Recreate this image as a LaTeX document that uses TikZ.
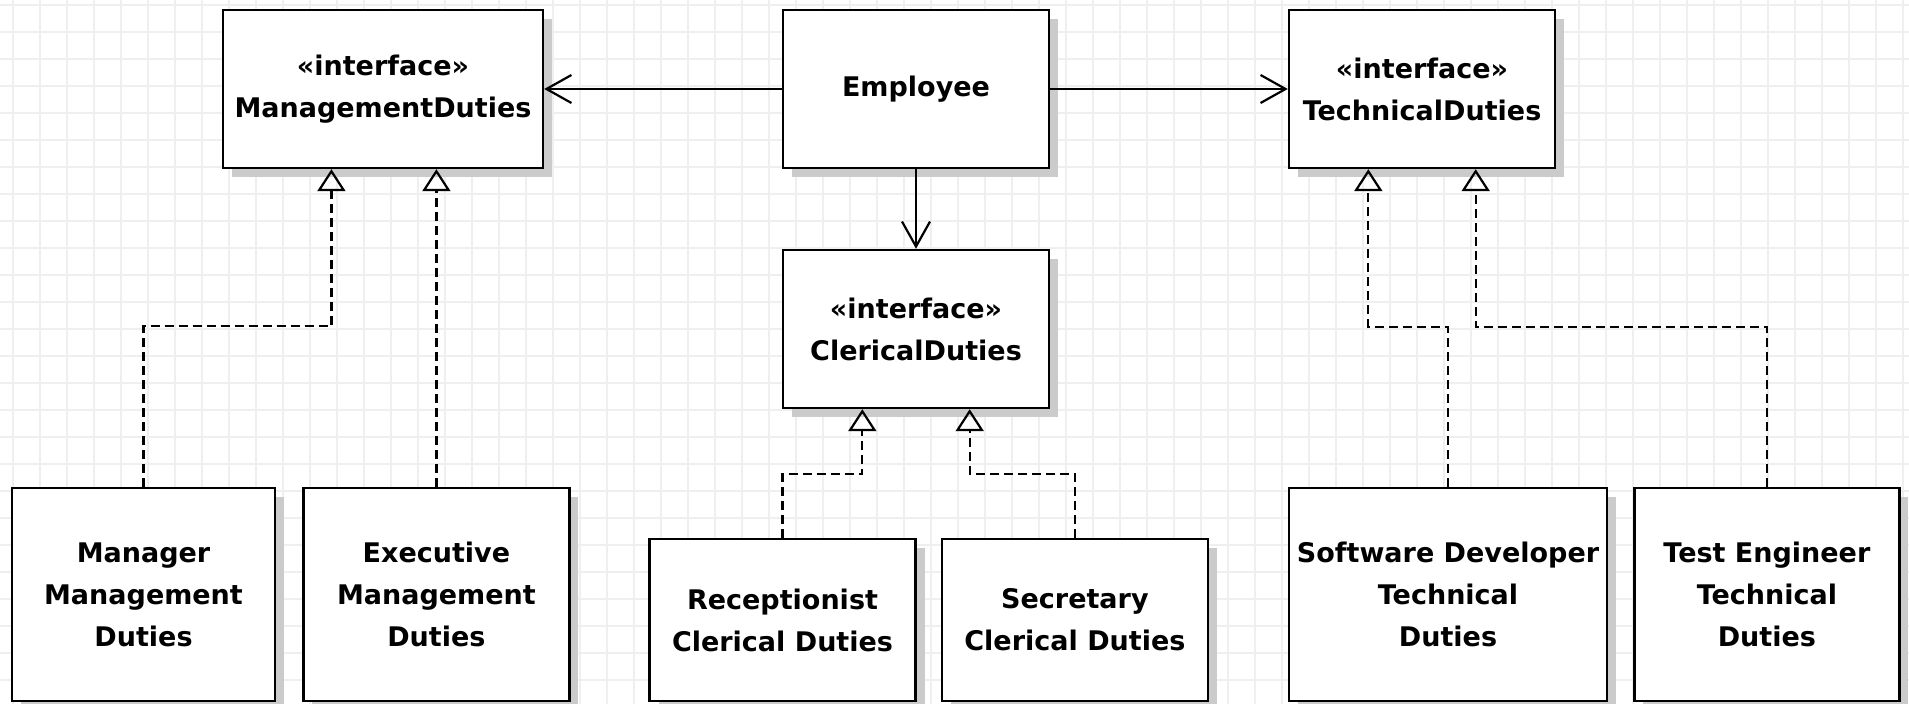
\documentclass[tikz,border=0pt]{standalone}
\usepackage{fontspec}
\setmainfont{DejaVu Sans}
\usepackage{tikz}
\usetikzlibrary{arrows.meta,positioning,calc,shadows}
\definecolor{GridLine}{HTML}{EFEFEF}
\definecolor{ShadowGray}{HTML}{CBCBCB}
\newcommand{\umlfont}{\fontsize{13.5pt}{21pt}\selectfont\bfseries}

\begin{document}
\begin{tikzpicture}[x=0.5pt,y=-0.5pt,
  cls/.style={draw,line width=1.2pt,fill=white,minimum width=133pt,minimum height=79pt,inner sep=2pt,align=center,font=\umlfont,general shadow={fill=ShadowGray,shadow xshift=4.5pt,shadow yshift=-4.5pt}},
  assoc/.style={-{Straight Barb[length=12.5pt,width=14pt]},line width=1.1pt},
  realize/.style={-{Triangle[open,length=11pt,width=14pt]},line width=1.1pt,dash pattern=on 4.5pt off 2.5pt}
]
  \useasboundingbox (0,0) rectangle (1909,704);
  \fill[white] (0,0) rectangle (1909,704);
  \foreach \gx in {13,40,...,1909} \draw[GridLine,line width=0.6pt] (\gx,0) -- (\gx,704);
  \foreach \gy in {5,32,...,704} \draw[GridLine,line width=0.6pt] (0,\gy) -- (1909,\gy);

  \node[cls,minimum width=160pt] (mgmt) at (383,89) {«interface»\\ManagementDuties};
  \node[cls] (emp) at (916,89) {Employee};
  \node[cls] (tech) at (1422,89) {«interface»\\TechnicalDuties};
  \node[cls] (cler) at (916,329) {«interface»\\ClericalDuties};

  \node[cls,minimum width=131.5pt,minimum height=106.5pt] (mgr) at (143.5,594.5) {Manager\\Management\\Duties};
  \node[cls,minimum height=106.5pt,right=13pt of mgr] (exec) {Executive\\Management\\Duties};
  \node[cls,minimum height=81pt] (recep) at (782.5,620) {Receptionist\\Clerical Duties};
  \node[cls,minimum height=81pt,right=12pt of recep] (secr) {Secretary\\Clerical Duties};
  \node[cls,minimum width=159pt,minimum height=106.5pt] (swdev) at (1448,594.5) {\makebox[140pt]{Software Developer}\\Technical\\Duties};
  \node[cls,minimum width=132.5pt,minimum height=106.5pt,right=12.5pt of swdev] (test) {Test Engineer\\Technical\\Duties};

  \draw[assoc] (emp.west) -- (mgmt.east);
  \draw[assoc] (emp.east) -- (tech.west);
  \draw[assoc] (emp.south) -- (cler.north);

  \draw[realize] (mgr.north) -- ++(0,-161) -| ($(mgmt.south west)!0.34!(mgmt.south east)$);
  \draw[realize] (exec.north) -- (exec.north |- mgmt.south);
  \draw[realize] (recep.north) -- ++(0,-64) -| ($(cler.south west)!0.3!(cler.south east)$);
  \draw[realize] (secr.north) -- ++(0,-64) -| ($(cler.south west)!0.7!(cler.south east)$);
  \draw[realize] (swdev.north) -- ++(0,-160) -| ($(tech.south west)!0.3!(tech.south east)$);
  \draw[realize] (test.north) -- ++(0,-160) -| ($(tech.south west)!0.7!(tech.south east)$);
\end{tikzpicture}
\end{document}
